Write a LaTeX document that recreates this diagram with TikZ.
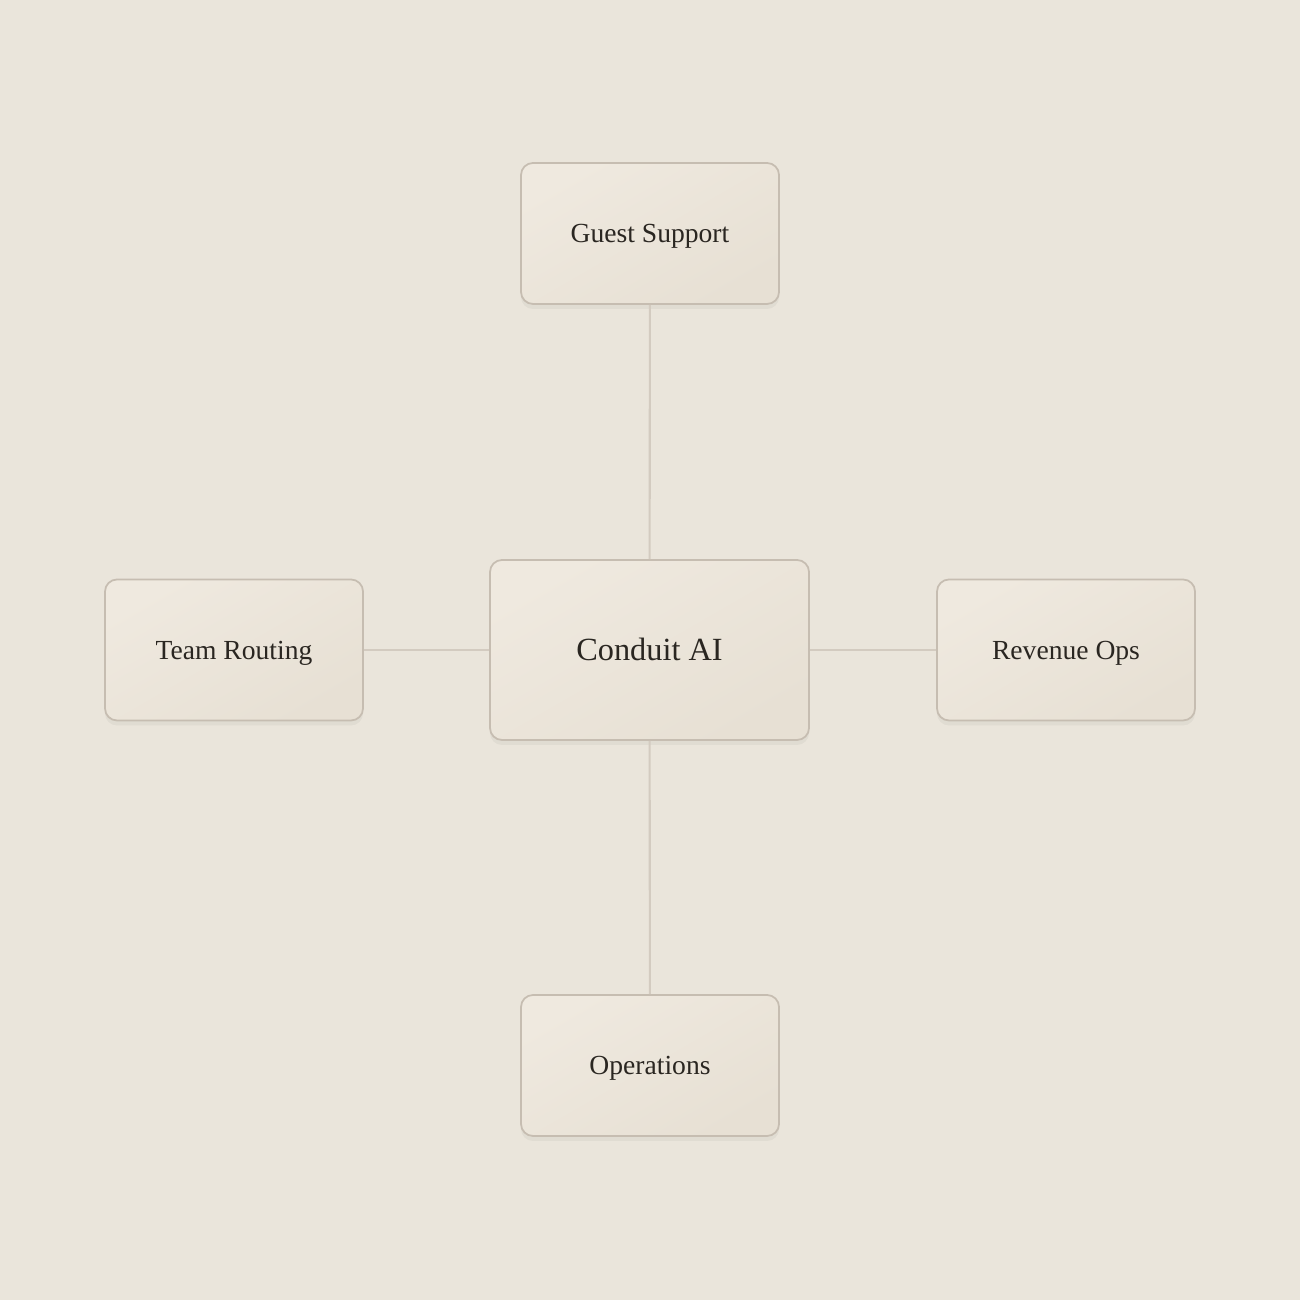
\documentclass[tikz,border=0pt]{standalone}
\usepackage{fontspec}
\setmainfont{Liberation Serif}
\usetikzlibrary{shadows}
\definecolor{paper}{HTML}{EAE5DB}
\definecolor{boxtop}{HTML}{EFE9DF}
\definecolor{boxbot}{HTML}{E7E0D4}
\definecolor{boxline}{HTML}{C6BDB1}
\definecolor{wire}{HTML}{D3CBC0}
\definecolor{ink}{HTML}{2A2621}
\begin{document}
\begin{tikzpicture}
				\tikzstyle{unit} = [rectangle,rounded corners=0.12cm,draw=boxline,line width=0.5pt,
					top color=boxtop,bottom color=boxbot,shading angle=30,text=ink,
					drop shadow={shadow xshift=0pt,shadow yshift=-0.05cm,opacity=0.04,fill=black},
					minimum width=2.58cm,minimum height=1.41cm,text height=5.2pt,text depth=0pt,
					font=\fontsize{7.85}{10}\selectfont]
				\tikzstyle{hub} = [unit,minimum width=3.19cm,minimum height=1.80cm,text height=6.1pt,
					font=\fontsize{9.2}{12}\selectfont]
				\tikzstyle{wire} = [draw=wire,line width=0.6pt]
				
				\fill[paper] (0,0) rectangle (13,13);
				\useasboundingbox (0,0) rectangle (13,13);
				
				\node[hub] (ai) at (6.495,6.5) {Conduit AI};
				\node[unit] (guest) at (6.5,10.665) {Guest Support};
				\node[unit] (team) at (2.34,6.5) {Team Routing};
				\node[unit] (revenue) at (10.66,6.5) {Revenue Ops};
				\node[unit] (ops) at (6.5,2.345) {Operations};
				
				\path[wire] (ai) edge (guest);
				\path[wire] (ai) edge (team);
				\path[wire] (ai) edge (revenue);
				\path[wire] (ai) edge (ops);
			\end{tikzpicture}
\end{document}
